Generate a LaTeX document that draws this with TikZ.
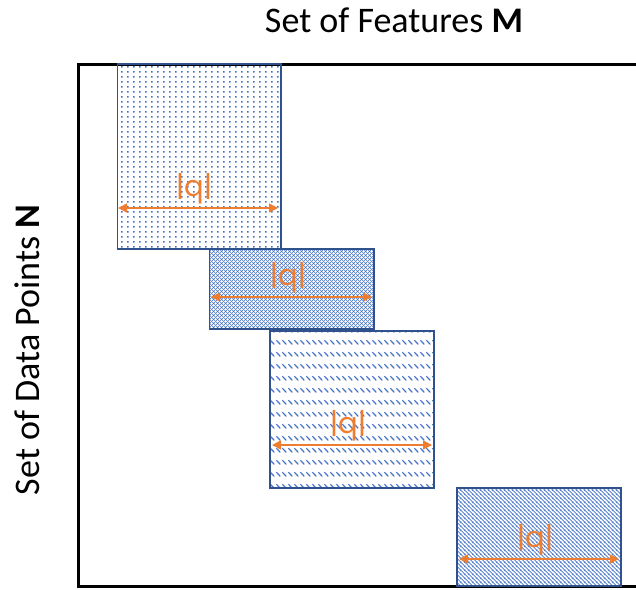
\documentclass[tikz,border=0pt]{standalone}
\usepackage{fontspec}
\setmainfont{Carlito}
\newfontfamily\qfont{Poppins}
\usetikzlibrary{patterns,arrows.meta}

% fill patterns for the four blocks
\pgfdeclarepatternformonly{dotgrid}{\pgfqpoint{0pt}{0pt}}{\pgfqpoint{6.3pt}{5pt}}{\pgfqpoint{6.3pt}{5pt}}{%
  \pgfpathrectangle{\pgfqpoint{2.3pt}{1.6pt}}{\pgfqpoint{1.7pt}{1.7pt}}\pgfusepath{fill}}
\pgfdeclarepatternformonly{diagmesh}{\pgfqpoint{0pt}{0pt}}{\pgfqpoint{4pt}{4pt}}{\pgfqpoint{4pt}{4pt}}{%
  \pgfsetlinewidth{0.75pt}%
  \pgfpathmoveto{\pgfqpoint{-1pt}{-1pt}}\pgfpathlineto{\pgfqpoint{5pt}{5pt}}%
  \pgfpathmoveto{\pgfqpoint{-1pt}{5pt}}\pgfpathlineto{\pgfqpoint{5pt}{-1pt}}%
  \pgfusepath{stroke}}
\pgfdeclarepatternformonly{dashdiag}{\pgfqpoint{0pt}{0pt}}{\pgfqpoint{6pt}{12pt}}{\pgfqpoint{6pt}{12pt}}{%
  \pgfsetlinewidth{1.3pt}%
  \pgfpathmoveto{\pgfqpoint{0.5pt}{10.5pt}}\pgfpathlineto{\pgfqpoint{5pt}{6pt}}\pgfusepath{stroke}}
\pgfdeclarepatternformonly{finediag}{\pgfqpoint{0pt}{0pt}}{\pgfqpoint{4.2pt}{4.2pt}}{\pgfqpoint{4.2pt}{4.2pt}}{%
  \pgfsetlinewidth{0.9pt}%
  \pgfpathmoveto{\pgfqpoint{-1pt}{5.2pt}}\pgfpathlineto{\pgfqpoint{5.2pt}{-1pt}}%
  \pgfpathmoveto{\pgfqpoint{-1pt}{1pt}}\pgfpathlineto{\pgfqpoint{1pt}{-1pt}}%
  \pgfpathmoveto{\pgfqpoint{3.2pt}{5.2pt}}\pgfpathlineto{\pgfqpoint{5.2pt}{3.2pt}}%
  \pgfusepath{stroke}}

\definecolor{patblue}{HTML}{4472C4}
\definecolor{edgeblue}{HTML}{2F528F}
\definecolor{qorange}{HTML}{ED7D31}

\tikzset{
  blk/.style={draw=edgeblue, line width=1.4pt, pattern color=patblue,
    rectangle, inner sep=0pt, outer sep=0pt},
  qarrow/.style={draw=qorange, line width=1.6pt,
    {Triangle[length=9pt,width=9pt]}-{Triangle[length=9pt,width=9pt]}},
  qlabel/.style={text=qorange, font=\qfont\fontsize{29}{32}\selectfont, inner sep=0pt},
  axislabel/.style={font=\fontsize{36}{40}\selectfont, inner sep=0pt}
}

\begin{document}
\begin{tikzpicture}[x=1pt,y=-1pt]
\useasboundingbox (0,0) rectangle (636,589);
\clip (0,0) rectangle (636,589);

% axis titles
\node[axislabel, anchor=base] (feat) at (394,32) {Set of Features \textbf{M}};
\node[axislabel, anchor=base, rotate=90] (pts) at (39,350) {Set of Data Points \textbf{N}};

% matrix frame
\draw[line width=3pt] (645,64.5) -| (78.5,586) -- (645,586);

% blocks
\node[blk, pattern=dotgrid,  minimum width=163.5pt, minimum height=185pt] (b1) at (199.25,156.5) {};
\node[blk, pattern=diagmesh, minimum width=164.5pt, minimum height=80pt]  (b2) at (291.75,289) {};
\node[blk, pattern=dashdiag, minimum width=164pt,   minimum height=157pt] (b3) at (352,409.5) {};
\node[blk, pattern=finediag, minimum width=164pt,   minimum height=98pt]  (b4) at (539,537) {};

% width markers
\coordinate (a1l) at (118,208); \coordinate (a1r) at (278,208);
\coordinate (a2l) at (211,297); \coordinate (a2r) at (372,297);
\coordinate (a3l) at (272,445); \coordinate (a3r) at (432,445);
\coordinate (a4l) at (459,559); \coordinate (a4r) at (619,559);
\draw[qarrow] (a1l) -- (a1r);
\draw[qarrow] (a2l) -- (a2r);
\draw[qarrow] (a3l) -- (a3r);
\draw[qarrow] (a4l) -- (a4r);

\node[qlabel] (q1) at (194,189) {|q|};
\node[qlabel] (q2) at (288,278) {|q|};
\node[qlabel] (q3) at (348,426) {|q|};
\node[qlabel] (q4) at (535,540) {|q|};
\end{tikzpicture}
\end{document}
